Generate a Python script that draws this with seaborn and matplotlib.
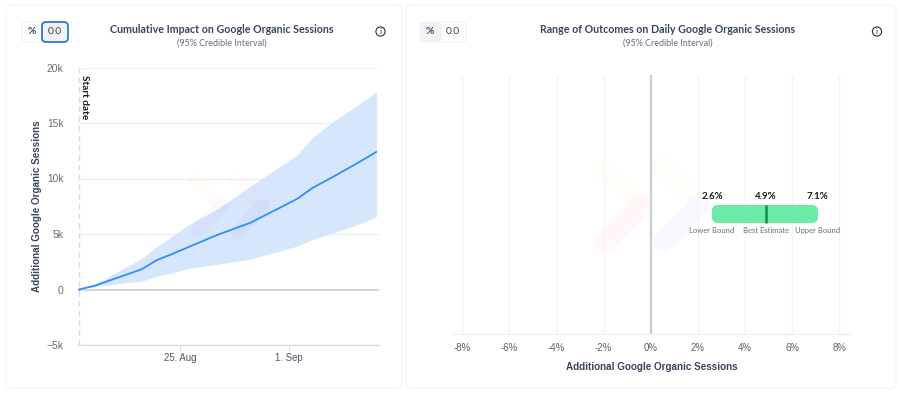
import matplotlib
matplotlib.use("Agg")
import matplotlib.pyplot as plt
from matplotlib.patches import FancyBboxPatch, Circle
from matplotlib.lines import Line2D
import pandas as pd
import seaborn as sns

sns.set_theme(style="white")
plt.rcParams['font.family'] = ['Lato', 'Noto Sans', 'DejaVu Sans']
HELV = ['Liberation Sans', 'DejaVu Sans']

# ---- data ----
day_offsets = [-6.5, -5.5, -2.45, -1.5, -0.5, 0.5, 2.45, 4.5, 7.5, 8.5, 9.8, 11.5, 12.6]
best = [0, 330, 1830, 2640, 3200, 3800, 4950, 6000, 8150, 9150, 10130, 11480, 12400]
upper = [0, 450, 2800, 3850, 4800, 5800, 7300, 9300, 12100, 13700, 15100, 16700, 17800]
lower = [0, 270, 750, 1200, 1500, 1900, 2280, 2730, 3900, 4500, 5100, 5900, 6550]
y_ticks = [-5000, 0, 5000, 10000, 15000, 20000]
y_labels = ["−5k", "0", "5k", "10k", "15k", "20k"]
pct_ticks = [-8, -6, -4, -2, 0, 2, 4, 6, 8]
pct_low, pct_best, pct_high = 2.6, 4.9, 7.1
bound_names = ["Lower Bound", "Best Estimate", "Upper Bound"]

W, H = 901, 393
fig = plt.figure(figsize=(W/100, H/100), dpi=100, facecolor="white")

def fx(x): return x / W
def fy(y): return 1 - y / H

def ax_px(x0, x1, y0, y1, **kw):
    return fig.add_axes([fx(x0), fy(y1), (x1-x0)/W, (y1-y0)/H], **kw)

# background layer in pixel coordinates
bg = fig.add_axes([0, 0, 1, 1], zorder=0)
bg.set_xlim(0, W); bg.set_ylim(H, 0); bg.axis("off")

for x0, x1 in [(6, 402), (406, 896)]:
    bg.add_patch(FancyBboxPatch((x0+6, 11), x1-x0-12, 371, boxstyle="round,pad=6,rounding_size=6",
                                fc="white", ec="#f6f7f9", lw=1))

def toggle(x0, active_second):
    bg.add_patch(FancyBboxPatch((x0+2, 24), 42, 16, boxstyle="round,pad=2,rounding_size=4",
                                fc="white", ec="#f0f1f4", lw=0.8, zorder=2))
    if active_second:
        bg.add_patch(FancyBboxPatch((x0+22, 24), 22, 16, boxstyle="round,pad=2,rounding_size=4",
                                    fc="#f1f3f7", ec="#1f6fd6", lw=1.2, zorder=3))
    else:
        bg.add_patch(FancyBboxPatch((x0+2, 24), 18, 16, boxstyle="round,pad=2,rounding_size=3",
                                    fc="#f1f3f7", ec="none", zorder=3))
    bg.text(x0+10, 32, "%", ha="center", va="center", fontsize=7.4, color="#3b4354", zorder=4, fontweight="bold")
    bg.text(x0+33, 32, "0.0", ha="center", va="center", fontsize=7.4, color="#3b4354", zorder=4)

toggle(22, True)
toggle(420, False)

navy = "#39445c"
for cx, title in [(222, "Cumulative Impact on Google Organic Sessions"),
                  (668, "Range of Outcomes on Daily Google Organic Sessions")]:
    bg.text(cx, 29.5, title, ha="center", va="center", fontsize=7.7, fontweight="bold", color=navy, zorder=4)
    bg.text(cx, 43.5, "(95% Credible Interval)", ha="center", va="center", fontsize=6.5, color="#666e7e", zorder=4)

for cx in (380.5, 877):
    bg.add_patch(Circle((cx, 31.5), 4.6, fc="white", ec="#2b2f38", lw=0.8, zorder=4))
    bg.text(cx, 31.7, "i", ha="center", va="center", fontsize=5.8, color="#2b2f38", zorder=5)

def arm(target, pts, color, lw, z, alpha=1.0):
    xs, ys = zip(*pts)
    target.add_line(Line2D(xs, ys, color=color, lw=lw, alpha=alpha, solid_capstyle="round", transform=bg.transData, zorder=z))

# watermark of the right panel (pale, under the grid)
arm(bg, [(603, 168), (642, 205)], "#fffdf9", 14.4, 1)
arm(bg, [(605, 242), (642, 205)], "#fff7f8", 14.4, 1)
arm(bg, [(663, 168), (700, 205)], "#fffdf9", 14.4, 1)
arm(bg, [(663, 242), (700, 205)], "#faf7ff", 14.4, 1)

# ---- left chart ----
origin = pd.Timestamp("2024-08-25")
dates = [origin + pd.Timedelta(days=d) for d in day_offsets]
df = pd.DataFrame({"date": dates, "best": best, "upper": upper, "lower": lower})

ax = ax_px(78, 379, 67.5, 345, zorder=2)
ax.patch.set_alpha(0)
x_left = origin + pd.Timedelta(days=-6.55)
x_right = origin + pd.Timedelta(days=12.77)
ax.set_xlim(x_left, x_right)
ax.set_ylim(-5000, 20000)
ax.fill_between(df["date"], df["lower"], df["upper"], color="#d6e6fd", lw=0, zorder=2)

# watermark of the left panel sits over the band
arm(ax, [(195, 180), (222, 206)], "#ffd090", 10, 3, 0.05)
arm(ax, [(197, 230), (222, 206)], "#c060ff", 10, 3, 0.04)
arm(ax, [(236, 180), (263, 206)], "#ffd090", 10, 3, 0.05)
arm(ax, [(238, 232), (263, 206)], "#8060ff", 10, 3, 0.05)

sns.lineplot(data=df, x="date", y="best", ax=ax, color="#2e8ff5", lw=1.3, zorder=4, estimator=None)
ax.set_xlabel("")
ax.set_ylabel("Additional Google Organic Sessions", fontsize=7.15, fontweight="bold", color=navy, family=HELV)
ax.yaxis.set_label_coords((42-78)/301, 0.5)
ax.set_yticks(y_ticks, y_labels)
ax.set_xticks([origin, origin + pd.Timedelta(days=7)], ["25. Aug", "1. Sep"])
ax.tick_params(axis="y", length=0, labelsize=7.4, labelcolor="#666a72", pad=10.5)
ax.tick_params(axis="x", length=4, width=0.7, color="#d5dcec", labelsize=6.9, labelcolor="#4d5565", pad=1.5,
               bottom=True)
for lab in ax.get_yticklabels() + ax.get_xticklabels():
    lab.set_family(HELV)
ax.grid(False)
for v in y_ticks:
    if v == 0:
        continue
    ax.axhline(v, color="#eef0f3" if v != 20000 else "#f2f3f5", lw=1 if v != 20000 else 1.5, zorder=1)
ax.axhline(0, color="#cdd2dc", lw=1.3, zorder=3)
for s in ["top", "right", "left"]:
    ax.spines[s].set_visible(False)
ax.spines["bottom"].set_color("#d5dcec")
ax.spines["bottom"].set_linewidth(1)
ax.axvline(origin + pd.Timedelta(days=-6.5), color="#d5dae4", lw=1, ls=(0, (4, 3)), zorder=1)
bg.text(84.5, 97, "Start date", rotation=270, ha="center", va="center", fontsize=7.2, color="#15181e",
        fontweight="bold", zorder=5)

# ---- right chart ----
ax2 = ax_px(451, 852, 75, 333.5, zorder=2)
ax2.patch.set_alpha(0)
per_pct = 23.55
ax2.set_xlim((451-650.7)/per_pct, (852-650.7)/per_pct)
ax2.set_ylim(0, 1)
ax2.set_xticks(pct_ticks, [f"{t}%" for t in pct_ticks])
ax2.set_yticks([])
ax2.tick_params(axis="x", length=0, labelsize=6.9, labelcolor="#5d6067", pad=7)
for lab in ax2.get_xticklabels():
    lab.set_family(HELV)
for t in pct_ticks:
    if t == 0:
        ax2.axvline(t, color="#c9cdd6", lw=1.6, zorder=3)
    else:
        ax2.axvline(t, color="#f3f4f6", lw=1, zorder=1)
for s in ["top", "right", "left"]:
    ax2.spines[s].set_visible(False)
ax2.spines["bottom"].set_color("#f0f1f4")
ax2.spines["bottom"].set_linewidth(1)
ax2.set_xlabel("Additional Google Organic Sessions", fontsize=7.15, fontweight="bold", color=navy, labelpad=6.3, family=HELV)

yc = (333.5 - 214) / (333.5 - 75)
hh = 9 / (333.5 - 75)
bar = FancyBboxPatch((pct_low, yc - hh), pct_high - pct_low, 2*hh,
                     boxstyle="round,pad=0,rounding_size=0.25", mutation_aspect=(23.55/258.5),
                     fc="#6ceba5", ec="none", zorder=4)
ax2.add_patch(bar)
ax2.vlines(pct_best, yc - hh, yc + hh, color="#0d8f52", lw=1.8, zorder=5)
for v, name in zip([pct_low, pct_best, pct_high], bound_names):
    ax2.text(v, yc + hh + 0.014, f"{v}%", ha="center", va="bottom", fontsize=7.0, fontweight="bold",
             color="#16181d", zorder=6)
    ax2.text(v, yc - hh - 0.015, name, ha="center", va="top", fontsize=5.5, color="#6c7079", zorder=6)

fig.savefig("out.png", dpi=100)
